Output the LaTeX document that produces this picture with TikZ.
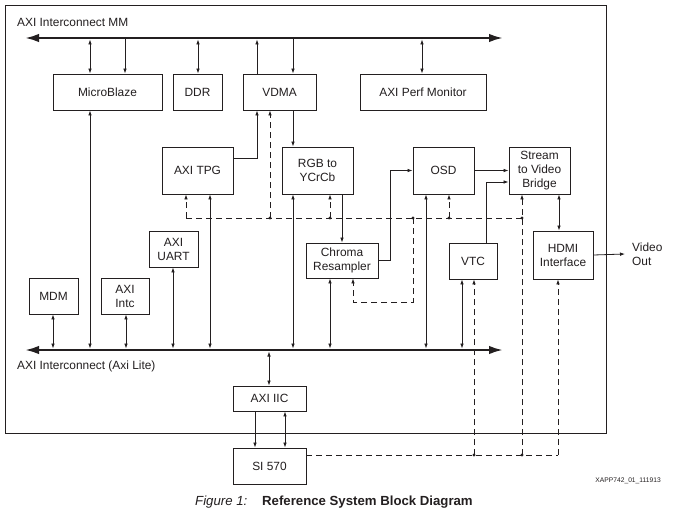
\documentclass[tikz,border=0pt]{standalone}
\usepackage{fontspec}
\setmainfont{Liberation Sans}
\usetikzlibrary{arrows.meta,calc}
\definecolor{ink}{RGB}{35,31,32}
\begin{document}
\begin{tikzpicture}[x=1pt,y=-1pt,
  every node/.style={text=ink},
  blk/.style={draw=ink,line width=0.95pt,inner sep=0pt,align=center,font=\fontsize{11.9}{14}\selectfont},
  ln/.style={draw=ink,line width=0.8pt},
  dsh/.style={ln,dash pattern=on 6pt off 4pt},
  bus/.style={draw=ink,line width=2.3pt,{Latex[length=14pt,width=8.5pt]}-{Latex[length=14pt,width=8.5pt]}},
  >={Latex[length=5pt,width=3.6pt]},
  lbl/.style={font=\fontsize{11.9}{14}\selectfont,inner sep=0pt,anchor=west}
]
\useasboundingbox (0,0) rectangle (687,508);
\fill[white] (0,0) rectangle (687,508);
% frame
\draw[ink,line width=1pt] (5,6) rectangle (606,433);

% boxes
\node[blk,minimum width=109,minimum height=36] (mb) at (107.5,92) {MicroBlaze};
\node[blk,minimum width=49,minimum height=36] (ddr) at (197.5,92) {DDR};
\node[blk,minimum width=73,minimum height=36] (vdma) at (279.5,92) {VDMA};
\node[blk,minimum width=126,minimum height=36] (perf) at (423,92) {AXI Perf Monitor};
\node[blk,minimum width=71,minimum height=47] (tpg) at (197.5,170.5) {AXI TPG};
\node[blk,minimum width=71,minimum height=47] (rgb) at (317.5,170.5) {RGB to\\YCrCb};
\node[blk,minimum width=61,minimum height=47] (osd) at (443.5,170.5) {OSD};
\node[blk,minimum width=61,minimum height=47] (bridge) at (539.5,170.5) {Stream\\to Video\\Bridge};
\node[blk,minimum width=72,minimum height=35] (chroma) at (342,260.5) {Chroma\\Resampler};
\node[blk,minimum width=48,minimum height=36] (vtc) at (473,261) {VTC};
\node[blk,minimum width=60,minimum height=48] (hdmi) at (563,255) {HDMI\\Interface};
\node[blk,minimum width=49,minimum height=36] (uart) at (173.5,249) {AXI\\UART};
\node[blk,minimum width=49,minimum height=36] (mdm) at (53.5,296) {MDM};
\node[blk,minimum width=48,minimum height=36] (intc) at (125,296) {AXI\\Intc};
\node[blk,minimum width=73,minimum height=25] (iic) at (269.5,398.5) {AXI IIC};
\node[blk,minimum width=73,minimum height=36] (si) at (269.5,466) {SI 570};

% labels
\node[lbl] (tmm) at (17,22) {AXI Interconnect MM};
\node[lbl] (tlite) at (17,366) {AXI Interconnect (Axi Lite)};
\node[anchor=west,inner xsep=7pt,inner ysep=0pt,align=left,font=\fontsize{11.9}{14}\selectfont] (vout) at (625,254) {Video\\Out};
\node[anchor=east,inner sep=0pt,font=\fontsize{6.7}{8}\selectfont] (xapp) at (661,481) {XAPP742\_01\_111913};
\node[anchor=base west,inner sep=0pt,font=\fontsize{13.2}{15}\selectfont\itshape] (fig) at (195,505) {Figure 1:};
\node[anchor=base west,inner sep=0pt,font=\fontsize{13.2}{15}\selectfont\bfseries] (cap) at (262,505) {Reference System Block Diagram};

% buses
\coordinate (TL) at (25,38); \coordinate (TR) at (503,38);
\coordinate (LL) at (25,350); \coordinate (LR) at (503,350);
\draw[bus] (TL) -- (TR);
\draw[bus] (LL) -- (LR);

\foreach \x in {90,125,198,257,293,422} {\coordinate (T\x) at (\x,39.5);}
\foreach \x in {53,90,126,173,210,293,330,426,462} {\coordinate (L\x) at (\x,348.5);}
\coordinate (B269) at (269,351.5);
\foreach \x in {186,270,330,413,449,522} {\coordinate (D\x) at (\x,218);}
\foreach \x in {474,522,558} {\coordinate (S\x) at (\x,455);}
\coordinate (C353) at (353,302);

% top bus taps
\draw[ln,<->] (T90) -- (T90 |- mb.north);
\draw[ln,->] (T125) -- (T125 |- mb.north);
\draw[ln,<->] (T198) -- (T198 |- ddr.north);
\draw[ln,->] (T257 |- vdma.north) -- (T257);
\draw[ln,->] (T293) -- (T293 |- vdma.north);
\draw[ln,<->] (T422) -- (T422 |- perf.north);

% lower bus taps
\draw[ln,<->] (L53) -- (L53 |- mdm.south);
\draw[ln,<->] (L90) -- (L90 |- mb.south);
\draw[ln,<->] (L126) -- (L126 |- intc.south);
\draw[ln,<->] (L173) -- (L173 |- uart.south);
\draw[ln,<->] (L210) -- (L210 |- tpg.south);
\draw[ln,<->] (L293) -- (L293 |- rgb.south);
\draw[ln,<->] (L330) -- (L330 |- chroma.south);
\draw[ln,<->] (L426) -- (L426 |- osd.south);
\draw[ln,<->] (L462) -- (L462 |- vtc.south);
\draw[ln,<->] (B269) -- (B269 |- iic.north);

% IIC to SI570
\draw[ln,->] ([xshift=-14.5pt]iic.south) -- ([xshift=-14.5pt]si.north);
\draw[ln,<->] ([xshift=15.5pt]iic.south) -- ([xshift=15.5pt]si.north);

% video path
\draw[ln,->] ([yshift=12.5pt]tpg.east) -| (T257 |- vdma.south);
\draw[ln,->] (T293 |- vdma.south) -- (T293 |- rgb.north);
\draw[ln,->] (rgb.south -| chroma.north) -- (chroma.north);
\draw[ln,->] (chroma.east) -- ++(12,0) |- (osd.west);
\draw[ln,->] (osd.east) -- (osd.east -| bridge.west);
\draw[ln,->] ([xshift=13pt]vtc.north) |- ([yshift=-11.5pt]bridge.west);
\draw[ln,<->] ([xshift=19.5pt]bridge.south) -- ([xshift=19.5pt]bridge.south |- hdmi.north);
\draw[ln,->] (hdmi.east) -- (vout.west);

% dashed clock bus
\draw[dsh] (D186) -- (D522);
\draw[dsh,->] (D186) -- (D186 |- tpg.south);
\draw[dsh,->] (D270) -- (D270 |- vdma.south);
\draw[dsh,->] (D330) -- (D330 |- rgb.south);
\draw[dsh,->] (D449) -- (D449 |- osd.south);
\draw[dsh,->] (D413) |- (C353) -- (C353 |- chroma.south);
\draw[dsh] ([yshift=11pt]si.east) -- (S558);
\draw[dsh,->] (S558) -- (S558 |- hdmi.south);
\draw[dsh,->] (S474) -- (S474 |- vtc.south);
\draw[dsh,->] (S522) -- (S522 |- bridge.south);

\foreach \p in {D270,D330,D413,D449,D522,S474,S522} {\fill[ink] (\p) circle (1.7);}
\end{tikzpicture}
\end{document}
